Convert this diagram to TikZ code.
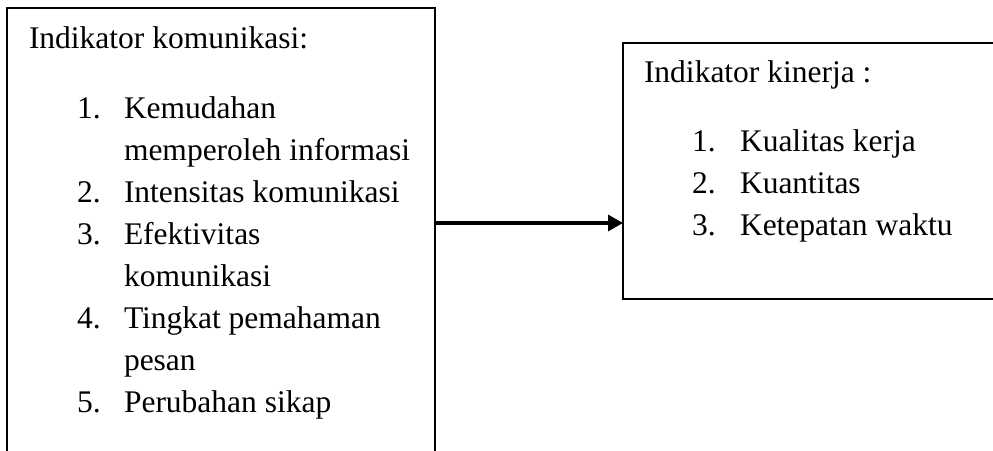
\documentclass[tikz,border=0pt]{standalone}
\usepackage{fontspec}
\setmainfont{Liberation Serif}
\usetikzlibrary{arrows.meta}
\begin{document}
\begin{tikzpicture}[x=1pt,y=-1pt,
  box/.style={draw, line width=2pt, anchor=north west, inner sep=0pt, outer sep=0pt},
  txt/.style={anchor=base west, inner sep=0pt, outer sep=0pt, font=\fontsize{31.5}{42}\selectfont},
  arr/.style={line width=3.3pt, -{Triangle[length=15pt,width=16pt]}}]
\useasboundingbox (0,0) rectangle (993,450);
\clip (0,0) rectangle (993,450);
% boxes
\node[box, minimum width=428pt, minimum height=470pt] (L) at (7,8) {};
\node[box, minimum width=420pt, minimum height=256pt] (R) at (623,43) {};
% left texts
\node[txt] (lt) at (29,48) {Indikator komunikasi:};
\node[txt] (ln1) at (77,118) {1.};
\node[txt] (li1) at (124,118) {Kemudahan};
\node[txt] (li1b) at (124,160) {memperoleh informasi};
\node[txt] (ln2) at (77,202) {2.};
\node[txt] (li2) at (124,202) {Intensitas komunikasi};
\node[txt] (ln3) at (77,244) {3.};
\node[txt] (li3) at (124,244) {Efektivitas};
\node[txt] (li3b) at (124,286) {komunikasi};
\node[txt] (ln4) at (77,328) {4.};
\node[txt] (li4) at (124,328) {Tingkat pemahaman};
\node[txt] (li4b) at (124,370) {pesan};
\node[txt] (ln5) at (77,412) {5.};
\node[txt] (li5) at (124,412) {Perubahan sikap};
% right texts
\node[txt] (rt) at (644,82) {Indikator kinerja :};
\node[txt] (rn1) at (692,151) {1.};
\node[txt] (ri1) at (740,151) {Kualitas kerja};
\node[txt] (rn2) at (692,193) {2.};
\node[txt] (ri2) at (740,193) {Kuantitas};
\node[txt] (rn3) at (692,235) {3.};
\node[txt] (ri3) at (740,235) {Ketepatan waktu};
% connector
\coordinate (aY) at (0,223);
\draw[arr] (L.east |- aY) -- (R.west |- aY);
\end{tikzpicture}
\end{document}
